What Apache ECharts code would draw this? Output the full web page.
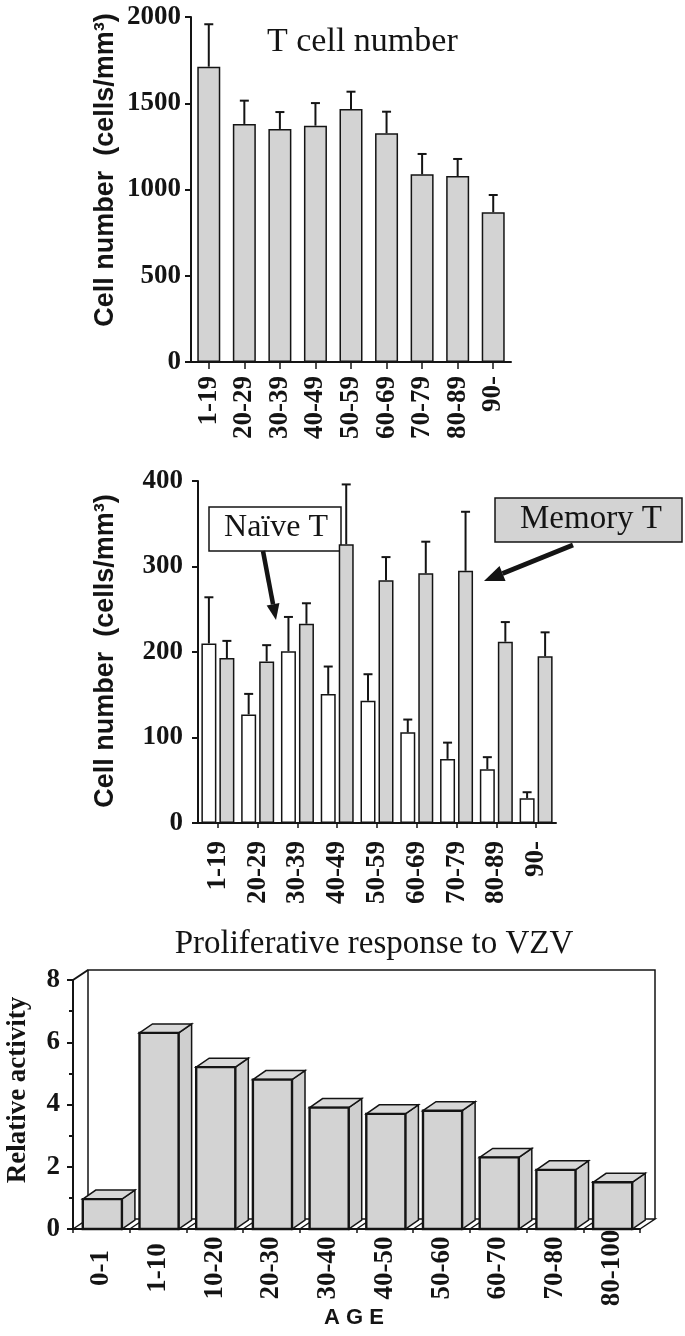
<!DOCTYPE html>
<html><head><meta charset="utf-8">
<script src="https://cdn.jsdelivr.net/npm/echarts@6/dist/echarts.min.js"></script>
<style>html,body{margin:0;padding:0;background:#fff;}#c{width:685px;height:1336px;}</style>
</head><body><div id="c"></div>
<script>
// ---------- data ----------
const ageGroupsT = ['1-19','20-29','30-39','40-49','50-59','60-69','70-79','80-89','90-'];
const tCellMean = [1712, 1380, 1351, 1370, 1467, 1326, 1088, 1078, 868];
const tCellSD   = [246, 135, 98, 131, 100, 125, 118, 99, 100];
const naiveMean = [210, 127, 201, 151, 143, 106, 75, 63, 29];
const naiveSD   = [54, 24, 40, 32, 31, 15, 19, 14, 7];
const memoryMean = [193, 189, 233, 326, 284, 292, 295, 212, 195];
const memorySD   = [20, 19, 24, 70, 27, 37, 69, 23, 28];
const ageGroupsVZV = ['0-1','1-10','10-20','20-30','30-40','40-50','50-60','60-70','70-80','80-100'];
const vzvActivity = [0.96, 6.3, 5.2, 4.8, 3.9, 3.7, 3.8, 2.3, 1.9, 1.5];
const yTicksT = [0, 500, 1000, 1500, 2000];
const yTicksSub = [0, 100, 200, 300, 400];
const yTicksVZV = [0, 2, 4, 6, 8];

// ---------- styling helpers ----------
const SERIF = "'Liberation Serif','Times New Roman',serif";
const SANS = "'Liberation Sans',Arial,sans-serif";
const INK = '#141414';
const GRAY = '#d3d3d3';

function yAxisCfg(idx, ticks, margin, minor) {
  return {
    type: 'value', gridIndex: idx,
    min: ticks[0], max: ticks[ticks.length - 1], interval: ticks[1] - ticks[0],
    axisLine: {show: true, lineStyle: {color: INK, width: 2}},
    axisTick: {show: true, length: 6, lineStyle: {color: INK, width: 2}},
    minorTick: minor ? {show: true, splitNumber: 2, length: 4, lineStyle: {color: INK, width: 2}} : {show: false},
    splitLine: {show: false},
    axisLabel: {color: INK, fontFamily: SERIF, fontWeight: 'bold', fontSize: 27, margin: margin,
      formatter: function (v) { return String(v); }}
  };
}
function xAxisCfg(idx, cats, margin, align, tickLen, alignWithLabel) {
  return {
    type: 'category', gridIndex: idx, data: cats,
    axisLine: {show: true, lineStyle: {color: INK, width: 2}},
    axisTick: {show: true, alignWithLabel: alignWithLabel, length: tickLen, lineStyle: {color: INK, width: 1.5}},
    splitLine: {show: false},
    axisLabel: Object.assign({color: INK, fontFamily: SERIF, fontWeight: 'bold', fontSize: 27,
      rotate: 90, interval: 0, margin: margin}, align)
  };
}
function errSeries(xi, yi, means, sds, offset) {
  return {
    type: 'custom', xAxisIndex: xi, yAxisIndex: yi, z: 3,
    data: means.map((m, i) => [i, m, sds[i]]),
    renderItem: function (params, api) {
      const i = api.value(0), m = api.value(1), s = api.value(2);
      const p0 = api.coord([i, m]);
      const p1 = api.coord([i, m + s]);
      const x = p0[0] + offset;
      return {type: 'group', children: [
        {type: 'line', shape: {x1: x, y1: p0[1], x2: x, y2: p1[1]}, style: {stroke: INK, lineWidth: 2}},
        {type: 'line', shape: {x1: x - 4.5, y1: p1[1], x2: x + 4.5, y2: p1[1]}, style: {stroke: INK, lineWidth: 2}}
      ]};
    }
  };
}
function arrow(x1, y1, x2, y2, w, headLen, headW) {
  const a = Math.atan2(y2 - y1, x2 - x1);
  const bx = x2 - headLen * Math.cos(a), by = y2 - headLen * Math.sin(a);
  const nx = -Math.sin(a), ny = Math.cos(a);
  return [
    {type: 'line', shape: {x1: x1, y1: y1, x2: bx, y2: by}, style: {stroke: INK, lineWidth: w}},
    {type: 'polygon', shape: {points: [[x2, y2], [bx + nx * headW / 2, by + ny * headW / 2], [bx - nx * headW / 2, by - ny * headW / 2]]}, style: {fill: INK}}
  ];
}

// 3D depth offsets for the bottom chart
const WALL_DX = 15, WALL_DY = -10, BAR_DX = 13, BAR_DY = -9;
const SUB_BW = 15, SUB_GAP = 0.2;
const subOff = (SUB_BW + SUB_BW * SUB_GAP) / 2;

const chart = echarts.init(document.getElementById('c'), null, {renderer: 'canvas'});
chart.setOption({
  backgroundColor: '#fff',
  animation: false,
  grid: [
    {left: 191, top: 17, width: 320, height: 345, outerBoundsMode: 'none'},
    {left: 198, top: 481, width: 358, height: 342, outerBoundsMode: 'none'},
    {left: 73, top: 980, width: 567, height: 249, outerBoundsMode: 'none'}
  ],
  xAxis: [
    xAxisCfg(0, ageGroupsT, 14, {}, 7, true),
    xAxisCfg(1, ageGroupsT, 18, {}, 5, true),
    xAxisCfg(2, ageGroupsVZV, 39, {align: 'center', verticalAlign: 'middle'}, 4, false)
  ],
  yAxis: [
    yAxisCfg(0, yTicksT, 10, false),
    yAxisCfg(1, yTicksSub, 15, false),
    yAxisCfg(2, yTicksVZV, 13, true)
  ],
  series: [
    {type: 'bar', xAxisIndex: 0, yAxisIndex: 0, data: tCellMean, barWidth: 23,
      itemStyle: {color: GRAY, borderColor: INK, borderWidth: 1.5}, z: 2},
    errSeries(0, 0, tCellMean, tCellSD, 0),
    {type: 'bar', name: 'Naïve T', xAxisIndex: 1, yAxisIndex: 1, data: naiveMean, barWidth: SUB_BW, barGap: (SUB_GAP * 100) + '%',
      itemStyle: {color: '#fff', borderColor: INK, borderWidth: 1.5}, z: 2},
    {type: 'bar', name: 'Memory T', xAxisIndex: 1, yAxisIndex: 1, data: memoryMean, barWidth: SUB_BW, barGap: (SUB_GAP * 100) + '%',
      itemStyle: {color: GRAY, borderColor: INK, borderWidth: 1.5}, z: 2},
    errSeries(1, 1, naiveMean, naiveSD, -subOff),
    errSeries(1, 1, memoryMean, memorySD, subOff),
    // 3D wall + floor
    {type: 'custom', xAxisIndex: 2, yAxisIndex: 2, z: 1, data: [[0, 0]],
      renderItem: function (params, api) {
        const cs = params.coordSys;
        const x = cs.x, y = cs.y, w = cs.width, h = cs.height;
        const n = ageGroupsVZV.length;
        const kids = [
          {type: 'polyline', shape: {points: [[x + WALL_DX, y + h + WALL_DY], [x + WALL_DX, y + WALL_DY], [x + w + WALL_DX, y + WALL_DY], [x + w + WALL_DX, y + h + WALL_DY]]},
            style: {stroke: INK, lineWidth: 1.5, fill: null}},
          {type: 'line', shape: {x1: x, y1: y, x2: x + WALL_DX, y2: y + WALL_DY}, style: {stroke: INK, lineWidth: 2}},
          {type: 'polyline', shape: {points: [[x, y + h], [x + WALL_DX, y + h + WALL_DY], [x + w + WALL_DX, y + h + WALL_DY], [x + w, y + h]]},
            style: {stroke: INK, lineWidth: 1.5, fill: null}}
        ];
        for (let k = 1; k < n; k++) {
          const bx = x + w * k / n;
          kids.push({type: 'line', shape: {x1: bx, y1: y + h, x2: bx + WALL_DX, y2: y + h + WALL_DY}, style: {stroke: INK, lineWidth: 1.5}});
        }
        return {type: 'group', children: kids};
      }},
    // 3D bars
    {type: 'custom', xAxisIndex: 2, yAxisIndex: 2, z: 2,
      data: vzvActivity.map((v, i) => [i, v]),
      renderItem: function (params, api) {
        const i = api.value(0), v = api.value(1);
        const t = api.coord([i, v]);
        const b = api.coord([i, 0]);
        const bw = api.size([1, 0])[0] * 0.69;
        const x0 = t[0] - bw / 2 + 1, x1 = x0 + bw;
        const yt = t[1], yb = b[1];
        return {type: 'group', children: [
          {type: 'polygon', shape: {points: [[x1, yt], [x1 + BAR_DX, yt + BAR_DY], [x1 + BAR_DX, yb + BAR_DY], [x1, yb]]},
            style: {fill: '#cfcfcf', stroke: INK, lineWidth: 1.5}},
          {type: 'polygon', shape: {points: [[x0, yt], [x0 + BAR_DX, yt + BAR_DY], [x1 + BAR_DX, yt + BAR_DY], [x1, yt]]},
            style: {fill: '#d8d8d8', stroke: INK, lineWidth: 1.5}},
          {type: 'rect', shape: {x: x0, y: yt, width: bw, height: yb - yt},
            style: {fill: GRAY, stroke: INK, lineWidth: 2.4}}
        ]};
      }}
  ],
  graphic: [
    {type: 'text', x: 267, y: 42, style: {text: 'T cell number', font: '34px ' + SERIF, fill: INK, align: 'left', verticalAlign: 'middle'}},
    {type: 'text', x: 106, y: 170, rotation: Math.PI / 2, style: {text: 'Cell number  (cells/mm³)', font: 'bold 27px ' + SANS, fill: INK, align: 'center', verticalAlign: 'middle'}},
    {type: 'text', x: 106, y: 651, rotation: Math.PI / 2, style: {text: 'Cell number  (cells/mm³)', font: 'bold 27px ' + SANS, fill: INK, align: 'center', verticalAlign: 'middle'}},
    {type: 'rect', shape: {x: 209, y: 507, width: 132, height: 44}, style: {fill: '#fff', stroke: INK, lineWidth: 1.5}},
    {type: 'text', x: 276, y: 528, style: {text: 'Naïve T', font: '32px ' + SERIF, fill: INK, align: 'center', verticalAlign: 'middle'}},
    {type: 'rect', shape: {x: 495, y: 498, width: 187, height: 44}, style: {fill: GRAY, stroke: INK, lineWidth: 1.5}},
    {type: 'text', x: 591, y: 519, style: {text: 'Memory T', font: '33px ' + SERIF, fill: INK, align: 'center', verticalAlign: 'middle'}},
    ...arrow(263, 551, 276, 620, 4.5, 16, 13),
    ...arrow(573, 545, 484, 581, 5, 20, 16),
    {type: 'text', x: 374, y: 944, style: {text: 'Proliferative response to VZV', font: '33px ' + SERIF, fill: INK, align: 'center', verticalAlign: 'middle'}},
    {type: 'text', x: 18, y: 1090, rotation: Math.PI / 2, style: {text: 'Relative activity', font: 'bold 27px ' + SERIF, fill: INK, align: 'center', verticalAlign: 'middle'}},
    {type: 'text', x: 354, y: 1318, style: {text: 'A G E', font: 'bold 22px ' + SANS, fill: INK, align: 'center', verticalAlign: 'middle'}}
  ]
});
</script></body></html>
